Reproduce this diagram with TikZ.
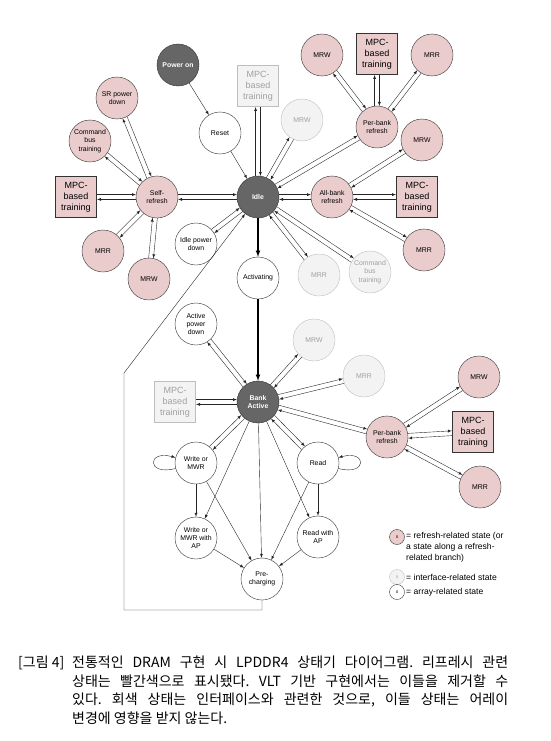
\documentclass[tikz,border=0pt]{standalone}
\usepackage{fontspec}
\setmainfont{Liberation Sans}
\newfontfamily\cjk{Noto Sans CJK KR}
\usepackage{tikz}
\usetikzlibrary{arrows, positioning, calc}
\definecolor{refpink}{RGB}{234,204,204}
\definecolor{ifdraw}{RGB}{190,190,190}
\definecolor{iffill}{RGB}{243,243,243}
\definecolor{iftext}{RGB}{160,160,160}
\definecolor{corefill}{RGB}{102,102,102}
\tikzset{%
	stat/.style={draw=black!80, circle, minimum size=42pt, inner sep=0pt, align=center,%
		fill=white, font=\fontsize{6.9}{8.3}\selectfont},
	refr/.style={fill=refpink},
	intf/.style={draw=ifdraw, fill=iffill, text=iftext},
	core/.style={fill=corefill, text=white, font=\bfseries\fontsize{6.9}{8.3}\selectfont},
	train/.style={draw=black!80, rectangle, minimum width=41pt, minimum height=41pt,%
		inner sep=0pt, align=center, font=\fontsize{9}{11}\selectfont},
	link/.style={->, draw=black!85, shorten >=21pt, shorten <=21pt},
	sel/.style={->, draw=black!85},
	main/.style={->, line width=1.1pt},
	key/.style={minimum size=15pt, font=\fontsize{5}{6}\selectfont},
	keytxt/.style={align=left, inner sep=0pt, font=\fontsize{8.6}{11}\selectfont},
	capt/.style={align=left, inner sep=0pt, font=\cjk\fontsize{14}{18.5}\selectfont}
}
% pair of opposite arrows between two nodes
\newcommand{\twoway}[3][2.4pt]{%
	\draw[link] ($(#2)!#1!90:(#3)$) -- ($(#3)!#1!-90:(#2)$);
	\draw[link] ($(#3)!#1!90:(#2)$) -- ($(#2)!#1!-90:(#3)$);}
\frenchspacing

\begin{document}
\begin{tikzpicture}[x=1pt, y=1pt, on grid, >=latex]
	\useasboundingbox (0,0) rectangle (551,-741);

	%idle
	\node[stat, core] (idle) at (258,-197) {Idle};
	\node[stat, above left=64pt and 38pt of idle] (reset) {Reset};
	\node[stat, core, above left=68pt and 42pt of reset] (pwron) {Power on};
	\node[train, intf, above=111pt of idle] (mpc-idle) {MPC-\\based\\training};
	\node[stat, intf, above right=77pt and 44pt of idle] (mrw-idle) {MRW};
	\node[stat, refr, above right=70pt and 119pt of idle] (pbr) {Per-bank\\refresh};
	\node[stat, refr, right=74pt of idle] (abr) {All-bank\\refresh};
	\node[stat, refr, left=101pt of idle] (sr) {Self-\\refresh};
	\node[stat, below left=47pt and 62pt of idle] (ipd) {Idle power\\down};
	\node[stat, below=81pt of idle] (act) {Activating};
	\node[stat, intf, below right=78pt and 61pt of idle] (mrr-idle) {MRR};
	\node[stat, intf, below right=75pt and 112pt of idle] (cbt-idle) {Command\\bus\\training};

	%self refresh
	\node[stat, refr, above left=99pt and 40pt of sr] (srpd) {SR power\\down};
	\node[stat, refr, above left=56pt and 67pt of sr] (cbt-sr) {Command\\bus\\training};
	\node[train, refr, left=81pt of sr] (mpc-sr) {MPC-\\based\\training};
	\node[stat, refr, below left=54pt and 54pt of sr] (mrr-sr) {MRR};
	\node[stat, refr, below left=82pt and 8pt of sr] (mrw-sr) {MRW};

	%per-bank and all-bank refresh
	\node[stat, refr, above left=72pt and 55pt of pbr] (mrw-pbr) {MRW};
	\node[train, refr, above=73pt of pbr] (mpc-pbr) {MPC-\\based\\training};
	\node[stat, refr, above right=72pt and 55pt of pbr] (mrr-pbr) {MRR};
	\node[stat, refr, above right=57pt and 90pt of abr] (mrw-abr) {MRW};
	\node[train, refr, right=85pt of abr] (mpc-abr) {MPC-\\based\\training};
	\node[stat, refr, below right=53pt and 92pt of abr] (mrr-abr) {MRR};

	%bank active
	\node[stat, core, below=124pt of act] (ba) {Bank\\Active};
	\node[stat, above left=78pt and 62pt of ba] (apd) {Active\\power\\down};
	\node[stat, intf, above right=62pt and 56pt of ba] (mrw-ba) {MRW};
	\node[stat, intf, above right=26pt and 106pt of ba] (mrr-ba) {MRR};
	\node[train, intf, left=83pt of ba] (mpc-ba) {MPC-\\based\\training};
	\node[stat, refr, below right=35pt and 129pt of ba] (pbr2) {Per-bank\\refresh};
	\node[stat, below left=61pt and 62pt of ba] (wr) {Write or\\MWR};
	\node[stat, below right=61pt and 60pt of ba] (rd) {Read};
	\node[stat, below=75pt of wr] (wrap) {Write or\\MWR with\\AP};
	\node[stat, below=74pt of rd] (rdap) {Read with\\AP};
	\node[stat, below right=177pt and 4pt of ba] (pre) {Pre-\\charging};
	\node[stat, refr, above right=60pt and 92pt of pbr2] (mrw-pbr2) {MRW};
	\node[train, refr, above right=5pt and 86pt of pbr2] (mpc-pbr2) {MPC-\\based\\training};
	\node[stat, refr, below right=50pt and 93pt of pbr2] (mrr-pbr2) {MRR};

	%two-way links
	\foreach \a/\b in {idle/mpc-idle, idle/mrw-idle, idle/pbr, idle/abr, idle/sr,%
		idle/ipd, idle/mrr-idle, idle/cbt-idle, sr/srpd, sr/cbt-sr, sr/mpc-sr,%
		sr/mrr-sr, sr/mrw-sr, pbr/mrw-pbr, pbr/mpc-pbr, pbr/mrr-pbr,%
		abr/mrw-abr, abr/mpc-abr, abr/mrr-abr, ba/apd, ba/mrw-ba, ba/mrr-ba,%
		ba/mpc-ba, ba/pbr2, ba/wr, ba/rd, pbr2/mrw-pbr2, pbr2/mpc-pbr2, pbr2/mrr-pbr2}
		\twoway{\a}{\b};

	%one-way links
	\draw[sel] (pwron) -- (reset);
	\draw[sel] (reset) -- (idle);
	\draw[main] (idle) -- (act);
	\draw[main] (act) -- (ba);
	\draw[sel] (ba) -- (wrap);
	\draw[sel] (ba) -- (rdap);
	\draw[sel] (ba) -- (pre);
	\draw[sel] (wr) -- (wrap);
	\draw[sel] (wr) -- (pre);
	\draw[sel] (rd) -- (rdap);
	\draw[sel] (rd) -- (pre);
	\draw[sel] (wrap) -- (pre);
	\draw[sel] (rdap) -- (pre);
	\draw[sel] (wr) to[out=195, in=165, min distance=30pt] (wr);
	\draw[sel] (rd) to[out=-15, in=15, min distance=30pt] (rd);

	%back to idle
	\coordinate (back1) at (124,-610);
	\coordinate (back2) at (124,-373);
	\draw[sel] (pre.south) |- (back1) -- (back2) -- (idle);

	%legend
	\node[stat, refr, key] (key-refr) at (397,-537) {x};
	\node[stat, intf, key] (key-intf) at (397,-577) {x};
	\node[stat, key] (key-arr) at (397,-592) {x};
	\node[keytxt, anchor=north west] (txt-refr) at (406,-532)
		{= refresh-related state (or\\a state along a refresh-\\related branch)};
	\node[keytxt, anchor=west] (txt-intf) at (406,-577) {= interface-related state};
	\node[keytxt, anchor=west] (txt-arr) at (406,-592) {= array-related state};

	%caption
	\node[capt, anchor=north west] (cap) at (18,-656)
		{\makebox[54pt][l]{[그림 4]}\makebox[436pt][s]{전통적인 DRAM 구현 시 LPDDR4 상태기 다이어그램. 리프레시 관련}\\
		\hspace*{54pt}\makebox[436pt][s]{상태는 빨간색으로 표시됐다. VLT 기반 구현에서는 이들을 제거할 수}\\
		\hspace*{54pt}\makebox[436pt][s]{있다. 회색 상태는 인터페이스와 관련한 것으로, 이들 상태는 어레이}\\
		\hspace*{54pt}변경에 영향을 받지 않는다.};
\end{tikzpicture}
\end{document}
